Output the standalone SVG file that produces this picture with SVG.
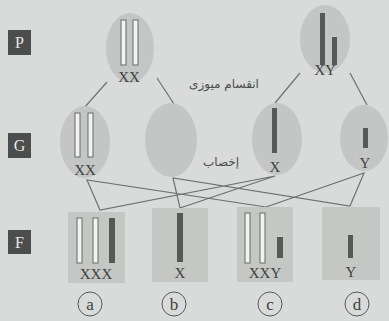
<svg xmlns="http://www.w3.org/2000/svg" width="389" height="321" viewBox="0 0 389 321">
  <style>
    .cell { fill: #c3c6c4; }
    .box { fill: #c5c7c5; }
    .tag { fill: #4b4e4c; }
    .tagtxt { font-family: "Liberation Serif", serif; font-size: 16px; fill: #e6e8e6; text-anchor: middle; }
    .lbl { font-family: "Liberation Serif", serif; font-size: 15px; fill: #3e423f; text-anchor: middle; }
    .ltr { font-family: "Liberation Serif", serif; font-size: 17px; fill: #3e423f; text-anchor: middle; }
    .ar { font-family: "DejaVu Sans", sans-serif; font-size: 12px; fill: #4a4e4b; text-anchor: middle; }
    .wc { fill: #f2f3f1; stroke: #666a67; stroke-width: 1; }
    .dc { fill: #555a57; }
    .link { stroke: #6e726f; stroke-width: 1.2; fill: none; }
    .circ { fill: none; stroke: #55595a; stroke-width: 1; }
  </style>
  <rect width="389" height="321" fill="#d8dbd9"/>

  <!-- generation tags -->
  <g id="tag-P"><rect class="tag" x="8" y="30" width="23" height="25"/><text class="tagtxt" x="19.5" y="48">P</text></g>
  <g id="tag-G"><rect class="tag" x="8" y="133" width="23" height="25"/><text class="tagtxt" x="19.5" y="151">G</text></g>
  <g id="tag-F"><rect class="tag" x="8" y="230" width="23" height="24"/><text class="tagtxt" x="19.5" y="247.5">F</text></g>

  <!-- connectors -->
  <g id="connectors">
    <line class="link" x1="107" y1="82" x2="84" y2="108"/>
    <line class="link" x1="157" y1="78" x2="174" y2="104"/>
    <line class="link" x1="300" y1="73" x2="275" y2="103"/>
    <line class="link" x1="350" y1="73" x2="367" y2="105"/>
    <polyline class="link" points="266,207 87,180 100,210 275,176 180,208 173,178 350,206 364,173 266,207"/>
  </g>

  <!-- parents -->
  <g id="parent-female">
    <ellipse class="cell" cx="130" cy="48" rx="24" ry="35"/>
    <rect class="wc" x="121" y="20" width="5" height="45"/>
    <rect class="wc" x="133" y="20" width="5" height="45"/>
    <text class="lbl" x="129" y="82">XX</text>
  </g>
  <g id="parent-male">
    <ellipse class="cell" cx="325" cy="39" rx="25" ry="34"/>
    <rect class="dc" x="320" y="13" width="5" height="52"/>
    <rect class="dc" x="332" y="37" width="5" height="28"/>
    <text class="lbl" x="325" y="75">XY</text>
  </g>
  <text class="ar" x="224" y="88">انقسام میوزی</text>

  <!-- gametes -->
  <g id="gamete-XX">
    <ellipse class="cell" cx="85" cy="142" rx="25" ry="36"/>
    <rect class="wc" x="75" y="113" width="5" height="44"/>
    <rect class="wc" x="88" y="113" width="5" height="44"/>
    <text class="lbl" x="85" y="175">XX</text>
  </g>
  <g id="gamete-O">
    <ellipse class="cell" cx="171" cy="140" rx="26" ry="37"/>
  </g>
  <g id="gamete-X">
    <ellipse class="cell" cx="277" cy="139" rx="25" ry="36"/>
    <rect class="dc" x="272" y="108" width="5" height="45"/>
    <text class="lbl" x="275" y="172">X</text>
  </g>
  <g id="gamete-Y">
    <ellipse class="cell" cx="364" cy="138" rx="24" ry="33"/>
    <rect class="dc" x="363" y="128" width="5" height="20"/>
    <text class="lbl" x="365" y="168">Y</text>
  </g>
  <text class="ar" x="221" y="166">إخصاب</text>

  <!-- offspring -->
  <g id="offspring-a">
    <rect class="box" x="68" y="212" width="57" height="71"/>
    <rect class="wc" x="77" y="218" width="5" height="45"/>
    <rect class="wc" x="93" y="218" width="5" height="45"/>
    <rect class="dc" x="109" y="218" width="6" height="45"/>
    <text class="lbl" x="96" y="279">XXX</text>
    <circle class="circ" cx="90" cy="304" r="12"/>
    <text class="ltr" x="90" y="309.5">a</text>
  </g>
  <g id="offspring-b">
    <rect class="box" x="152" y="208" width="56" height="74"/>
    <rect class="dc" x="177" y="213" width="6" height="49"/>
    <text class="lbl" x="180" y="278">X</text>
    <circle class="circ" cx="174" cy="304" r="12"/>
    <text class="ltr" x="174" y="309.5">b</text>
  </g>
  <g id="offspring-c">
    <rect class="box" x="237" y="207" width="56" height="75"/>
    <rect class="wc" x="245" y="213" width="5" height="50"/>
    <rect class="wc" x="260" y="213" width="5" height="50"/>
    <rect class="dc" x="277" y="237" width="6" height="21"/>
    <text class="lbl" x="265" y="278">XXY</text>
    <circle class="circ" cx="270" cy="304" r="12"/>
    <text class="ltr" x="270" y="309.5">c</text>
  </g>
  <g id="offspring-d">
    <rect class="box" x="322" y="207" width="58" height="73"/>
    <rect class="dc" x="348" y="235" width="5" height="23"/>
    <text class="lbl" x="351" y="277">Y</text>
    <circle class="circ" cx="357" cy="304" r="12"/>
    <text class="ltr" x="357" y="309.5">d</text>
  </g>
</svg>
